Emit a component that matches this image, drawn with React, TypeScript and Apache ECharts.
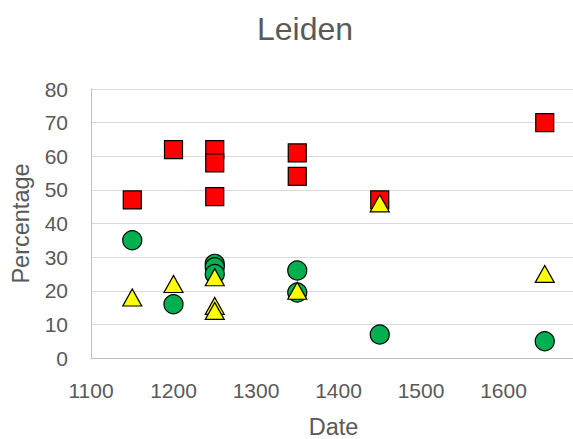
import React, { useEffect, useRef } from "react";
import * as echarts from "echarts";

// Survey dates (x) and percentages (y) for each of the three groups
const redDates = [1150, 1200, 1250, 1250, 1250, 1350, 1350, 1450, 1650];
const redValues = [47, 62, 62, 58, 48, 61, 54, 47, 70];

const greenDates = [1150, 1200, 1250, 1250, 1250, 1350, 1350, 1450, 1650];
const greenValues = [35, 16, 28, 27, 25, 26, 19.5, 7, 5];

const yellowDates = [1150, 1200, 1250, 1250, 1250, 1350, 1450, 1650];
const yellowValues = [18, 22, 24, 15.5, 14, 20, 46, 25];

const chartTitle = "Leiden";
const xTitle = "Date";
const yTitle = "Percentage";

const FONT = "'Liberation Sans', Arial, sans-serif";
const TEXT = "#595959";

const pairs = (xs: number[], ys: number[]) => xs.map((x, i) => [x, ys[i]]);

export default function App() {
  const ref = useRef<HTMLDivElement>(null);

  useEffect(() => {
    if (!ref.current) return;
    const chart = echarts.init(ref.current, null, { renderer: "svg" });
    const marker = { borderColor: "#000", borderWidth: 1.2, opacity: 1 };
    chart.setOption({
      animation: false,
      backgroundColor: "#fff",
      title: {
        text: chartTitle,
        left: 300,
        textAlign: "center",
        top: 8,
        textStyle: { fontFamily: FONT, fontSize: 32, fontWeight: "normal", color: TEXT },
      },
      // plot area runs past the right edge, so the 1700 end of the axis is out of view
      grid: { left: 91, right: -13, top: 89, bottom: 81, outerBoundsMode: "none", containLabel: false },
      xAxis: {
        type: "value",
        min: 1100,
        max: 1700,
        interval: 100,
        name: xTitle,
        nameLocation: "middle",
        nameGap: 57,
        nameTextStyle: {
          fontFamily: FONT,
          fontSize: 23.5,
          lineHeight: 24,
          color: TEXT,
          padding: [0, 10, 0, 0],
        },
        axisLine: { show: true, lineStyle: { color: "#BFBFBF", width: 1 } },
        axisTick: { show: false },
        splitLine: { show: false },
        axisLabel: {
          fontFamily: FONT,
          fontSize: 21,
          color: TEXT,
          margin: 22,
          showMaxLabel: false,
          formatter: (v: number) => String(v),
        },
      },
      yAxis: {
        type: "value",
        min: 0,
        max: 80,
        interval: 10,
        name: yTitle,
        nameLocation: "middle",
        nameRotate: 90,
        nameGap: 58,
        nameTextStyle: { fontFamily: FONT, fontSize: 23.5, color: TEXT },
        axisLine: { show: true, lineStyle: { color: "#BFBFBF", width: 1 } },
        axisTick: { show: false },
        splitLine: { show: true, lineStyle: { color: "#D9D9D9", width: 1 } },
        axisLabel: { fontFamily: FONT, fontSize: 21, color: TEXT, margin: 23 },
      },
      series: [
        {
          name: "Group A",
          type: "scatter",
          symbol: "rect",
          symbolSize: 18,
          itemStyle: { color: "#FF0000", ...marker },
          data: pairs(redDates, redValues),
        },
        {
          name: "Group B",
          type: "scatter",
          symbol: "circle",
          symbolSize: 19,
          itemStyle: { color: "#00B050", ...marker },
          data: pairs(greenDates, greenValues),
        },
        {
          name: "Group C",
          type: "scatter",
          symbol: "triangle",
          symbolSize: [19, 17],
          itemStyle: { color: "#FFFF00", ...marker },
          data: pairs(yellowDates, yellowValues),
        },
      ],
    });
    return () => chart.dispose();
  }, []);

  return (
    <div
      ref={ref}
      style={{ position: "fixed", left: 0, top: 0, width: 573, height: 439, overflow: "hidden" }}
    />
  );
}
